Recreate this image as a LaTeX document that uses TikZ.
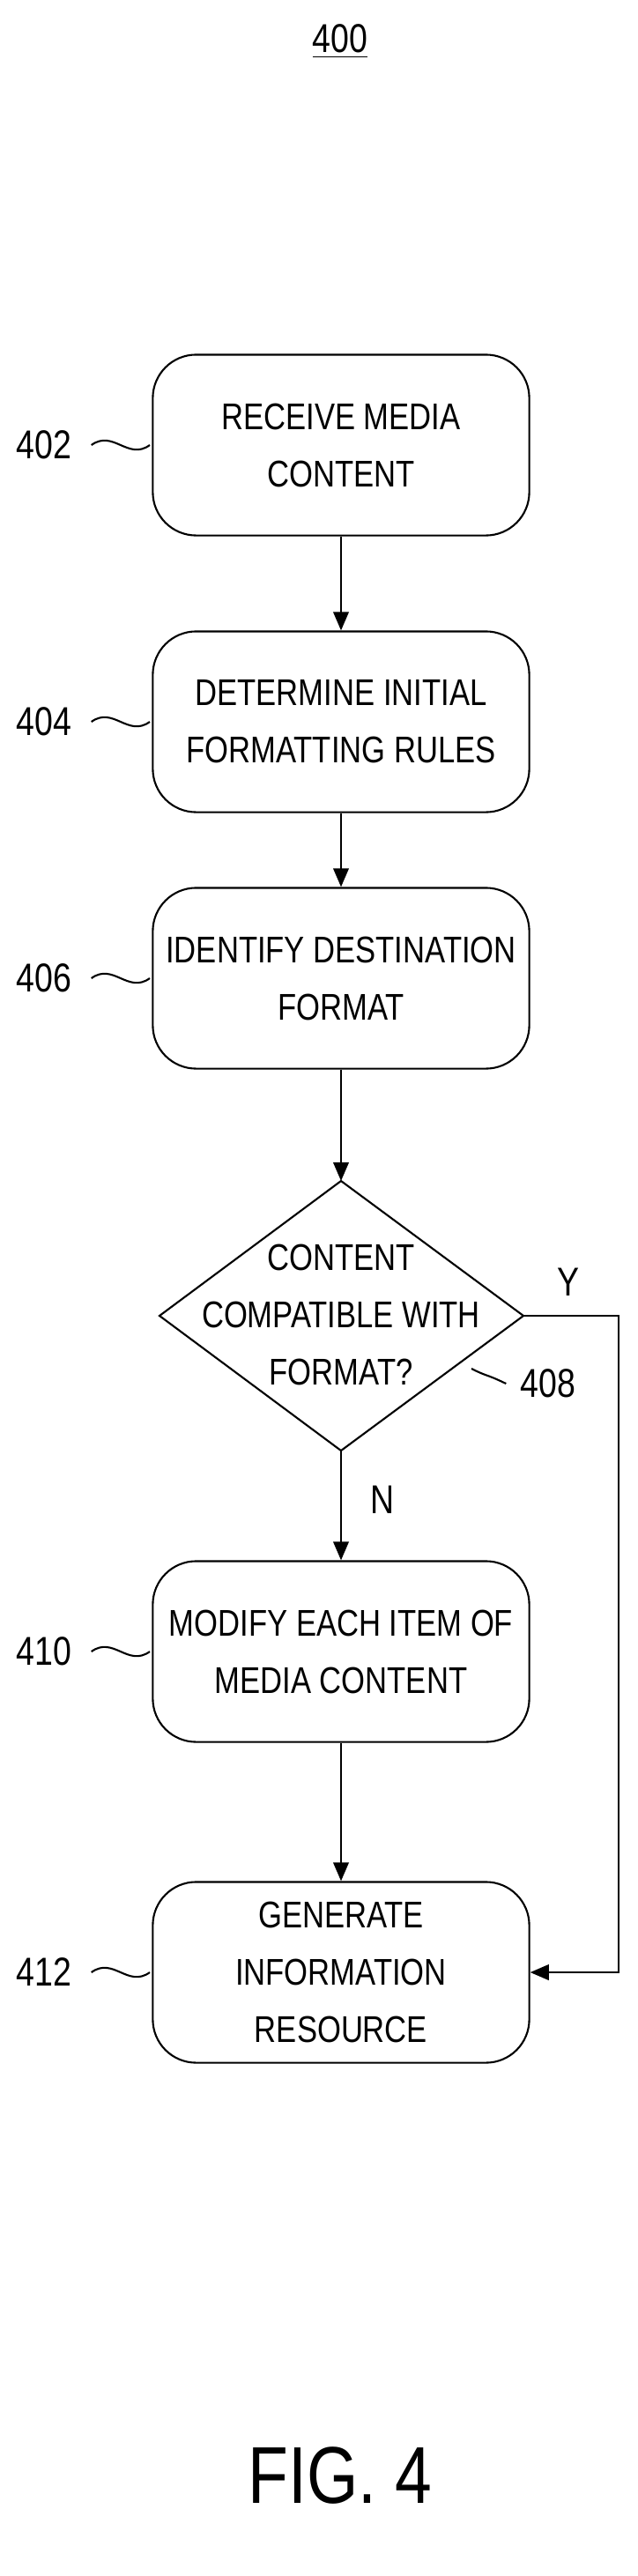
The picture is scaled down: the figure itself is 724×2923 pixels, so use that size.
\documentclass[tikz,border=0pt]{standalone}
\usepackage{fontspec}
\setmainfont{Liberation Sans}[FakeStretch=0.82]
\usetikzlibrary{shapes.geometric, arrows.meta, positioning}
\begin{document}
\begin{tikzpicture}[x=0.01cm, y=-0.01cm,
    % Step box style
    stepbox/.style={
        rectangle,
        rounded corners=14pt,
        draw=black, semithick,
        minimum width=4.27cm,
        minimum height=2.05cm,
        align=center,
        font=\fontsize{12}{18.5}\selectfont
    },
    % Decision text style
    dectext/.style={
        align=center,
        font=\fontsize{12}{18.5}\selectfont
    },
    % Arrow style
    arrow/.style={
        -{Triangle[length=6pt,width=5pt]},
        semithick
    },
    % Reference label style
    reflbl/.style={
        font=\fontsize{13}{15}\selectfont
    },
    refline/.style={semithick}
]
\useasboundingbox (0,0) rectangle (724,2923);

% === Title ===
\node[reflbl] (title) at (386,47) {\underline{400}};

% === Steps ===
\node[stepbox] (recv) at (387,505) {RECEIVE MEDIA\\CONTENT};
\node[stepbox] (rules) at (387,819) {DETERMINE INITIAL\\FORMATTING RULES};
\node[stepbox] (ident) at (387,1110) {IDENTIFY DESTINATION\\FORMAT};
\node[dectext] (compat) at (387,1492) {CONTENT\\COMPATIBLE WITH\\FORMAT?};
\coordinate (dtop) at (387,1340);
\coordinate (dbot) at (387,1646);
\coordinate (dleft) at (181,1493);
\coordinate (dright) at (594,1493);
\draw[semithick] (dtop) -- (dright) -- (dbot) -- (dleft) -- cycle;
\node[stepbox] (modify) at (387,1874) {MODIFY EACH ITEM OF\\MEDIA CONTENT};
\node[stepbox] (gen) at (387,2238) {GENERATE\\INFORMATION\\RESOURCE};

% === Arrows ===
\draw[arrow] (recv) -- (rules);
\draw[arrow] (rules) -- (ident);
\draw[arrow] (ident) -- (dtop);
\draw[arrow] (dbot) -- node[right=6pt, reflbl, pos=0.45] {N} (modify);
\draw[arrow] (modify) -- (gen);
\coordinate (ycorner) at (702,1493);
\draw[arrow] (dright) -- (ycorner) |- (gen.east);
\node[reflbl] (ylbl) at (645,1455) {Y};

% === Reference numerals ===
\node[reflbl] (n402) at (50,505) {402};
\node[reflbl] (n404) at (50,819) {404};
\node[reflbl] (n406) at (50,1110) {406};
\node[reflbl] (n408) at (622,1570) {408};
\node[reflbl] (n410) at (50,1874) {410};
\node[reflbl] (n412) at (50,2238) {412};
\foreach \n/\y in {n402/505, n404/819, n406/1110, n410/1874, n412/2238}
    \draw[refline] (\n.east) ++(10,0) .. controls +(25,-18) and +(-25,18) .. (170,\y);
\draw[refline] (n408.west) ++(-4,0) .. controls +(-25,-12) and +(20,10) .. (535,1553);

% === Figure caption ===
\node[font=\fontsize{26}{30}\selectfont] (fig) at (386,2809) {FIG. 4};
\end{tikzpicture}
\end{document}
